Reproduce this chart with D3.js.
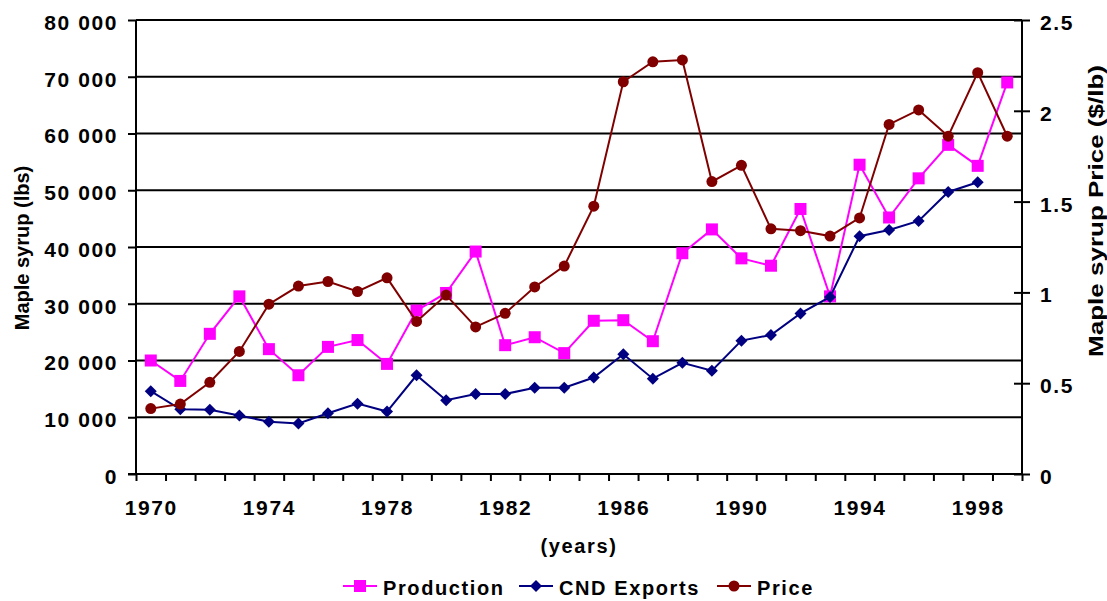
<!DOCTYPE html>
<html><head><meta charset="utf-8">
<script src="https://cdn.jsdelivr.net/npm/d3@7"></script>
<style>
body{margin:0;background:#fff;}
svg text{font-family:"Liberation Sans",Arial,sans-serif;font-weight:bold;fill:#000;}
</style></head><body>
<svg id="c" width="1107" height="601"></svg>
<script>
const years = d3.range(1970, 2000);
const yearLabels = [1970, 1974, 1978, 1982, 1986, 1990, 1994, 1998];
const leftTicks = [0, 10000, 20000, 30000, 40000, 50000, 60000, 70000, 80000];
const rightTicks = [0, 0.5, 1, 1.5, 2, 2.5];
const production = [20000, 16400, 24700, 31300, 22000, 17400, 22400, 23600, 19400, 28800,
  31900, 39200, 22700, 24100, 21300, 27000, 27100, 23400, 38900, 43100,
  38000, 36700, 46700, 31300, 54500, 45200, 52100, 58000, 54300, 69000];
const exports = [14600, 11400, 11300, 10300, 9200, 8900, 10700, 12400, 11000, 17400,
  13000, 14100, 14100, 15200, 15200, 17000, 21100, 16800, 19600, 18200,
  23500, 24500, 28300, 31200, 41900, 43000, 44600, 49700, 51400, null];
const price = [0.36, 0.385, 0.505, 0.675, 0.935, 1.035, 1.06, 1.005, 1.08, 0.84,
  0.985, 0.81, 0.885, 1.03, 1.145, 1.475, 2.16, 2.27, 2.28, 1.61,
  1.70, 1.35, 1.34, 1.31, 1.41, 1.925, 2.005, 1.86, 2.21, 1.86];
const seriesNames = ["Production", "CND Exports", "Price"];
const seriesColors = ["#FF00FF", "#000080", "#800000"];

const svg = d3.select("#c");
const L = 136, R = 1022, T = 20, B = 474;
const x = d3.scaleLinear().domain([1969.5, 1999.5]).range([L, R]);
const yL = d3.scaleLinear().domain([0, 80000]).range([B, T]);
const yR = d3.scaleLinear().domain([0, 2.5]).range([B, T]);
const loc = d3.formatLocale({decimal: ".", thousands: " ", grouping: [3], currency: ["$", ""]});
const fmt = loc.format(",");

// gridlines
svg.append("g").selectAll("line").data(leftTicks.filter(d => d > 0)).join("line")
  .attr("x1", L).attr("x2", R).attr("y1", d => yL(d)).attr("y2", d => yL(d))
  .attr("stroke", "#000").attr("stroke-width", 2);

// left axis
const gl = svg.append("g").attr("transform", `translate(${L},0)`)
  .call(d3.axisLeft(yL).tickValues(leftTicks).tickFormat(fmt).tickSize(8).tickPadding(10));
gl.select(".domain").remove();
gl.selectAll(".tick line").attr("stroke-width", 2);
gl.selectAll(".tick text").style("font-size", "21px").style("letter-spacing", "1.6px")
  .attr("font-family", null).attr("dy", "0.45em");
svg.append("line").attr("x1", L).attr("x2", L).attr("y1", T).attr("y2", B + 1)
  .attr("stroke", "#000").attr("stroke-width", 2);

// right axis
const gr = svg.append("g").attr("transform", `translate(${R},0)`)
  .call(d3.axisRight(yR).tickValues(rightTicks).tickFormat(d => String(d)).tickSize(8).tickPadding(10));
gr.select(".domain").remove();
gr.selectAll(".tick line").attr("x1", -8).attr("stroke-width", 2);
gr.selectAll(".tick text").style("font-size", "21px").style("letter-spacing", "1.6px")
  .attr("font-family", null).attr("dy", "0.45em");
svg.append("line").attr("x1", R).attr("x2", R).attr("y1", T).attr("y2", B + 1)
  .attr("stroke", "#000").attr("stroke-width", 2);

// bottom axis ticks at category boundaries
const gb = svg.append("g").attr("transform", `translate(0,${B})`)
  .call(d3.axisBottom(x).tickValues(d3.range(1969.5, 2000, 1)).tickFormat("").tickSize(7));
gb.select(".domain").remove();
gb.selectAll(".tick line").attr("stroke-width", 2);
svg.append("line").attr("x1", L - 8).attr("x2", R).attr("y1", B).attr("y2", B)
  .attr("stroke", "#000").attr("stroke-width", 2);
// year labels
const gy = svg.append("g").attr("transform", `translate(0,${B})`)
  .call(d3.axisBottom(x).tickValues(yearLabels).tickFormat(d => String(d)).tickSize(0).tickPadding(26));
gy.select(".domain").remove();
gy.selectAll(".tick text").style("font-size", "21px").style("letter-spacing", "1.6px").attr("font-family", null);

// axis titles
svg.append("text").attr("transform", "translate(29,248) rotate(-90)").attr("text-anchor", "middle")
  .style("font-size", "20px").text("Maple syrup (lbs)");
svg.append("text").attr("transform", "translate(1103,211) rotate(-90)").attr("text-anchor", "middle")
  .attr("textLength", 292).attr("lengthAdjust", "spacingAndGlyphs")
  .style("font-size", "20px").text("Maple syrup Price ($/lb)");
svg.append("text").attr("x", 579).attr("y", 553).attr("text-anchor", "middle")
  .style("font-size", "20px").style("letter-spacing", "1.6px").text("(years)");

// series
function drawMarker(g, type, color) {
  if (type === 0) g.append("rect").attr("x", -6).attr("y", -6).attr("width", 12).attr("height", 12).attr("fill", color);
  else if (type === 1) g.append("path").attr("d", "M0,-6L6,0L0,6L-6,0Z").attr("fill", color);
  else g.append("circle").attr("r", 5.5).attr("fill", color);
}
const series = [
  {vals: production, y: yL},
  {vals: exports, y: yL},
  {vals: price, y: yR}
];
series.forEach((s, i) => {
  const pts = years.map((yr, j) => ({yr, v: s.vals[j]})).filter(d => d.v != null);
  svg.append("path").datum(pts)
    .attr("d", d3.line().x(d => x(d.yr)).y(d => s.y(d.v)))
    .attr("fill", "none").attr("stroke", seriesColors[i]).attr("stroke-width", 2);
  pts.forEach(d => {
    const g = svg.append("g").attr("transform", `translate(${x(d.yr)},${s.y(d.v)})`);
    drawMarker(g, i, seriesColors[i]);
  });
});

// legend
const legX = [343, 519, 717];
seriesNames.forEach((n, i) => {
  const g = svg.append("g").attr("transform", `translate(${legX[i]},586)`);
  g.append("line").attr("x1", 0).attr("x2", 34).attr("y1", 0).attr("y2", 0)
    .attr("stroke", seriesColors[i]).attr("stroke-width", 2);
  const m = g.append("g").attr("transform", "translate(17,0)");
  drawMarker(m, i, seriesColors[i]);
  g.append("text").attr("x", 40).attr("y", 9).style("font-size", "20px").style("letter-spacing", "1.6px").text(n);
});
</script>
</body></html>
